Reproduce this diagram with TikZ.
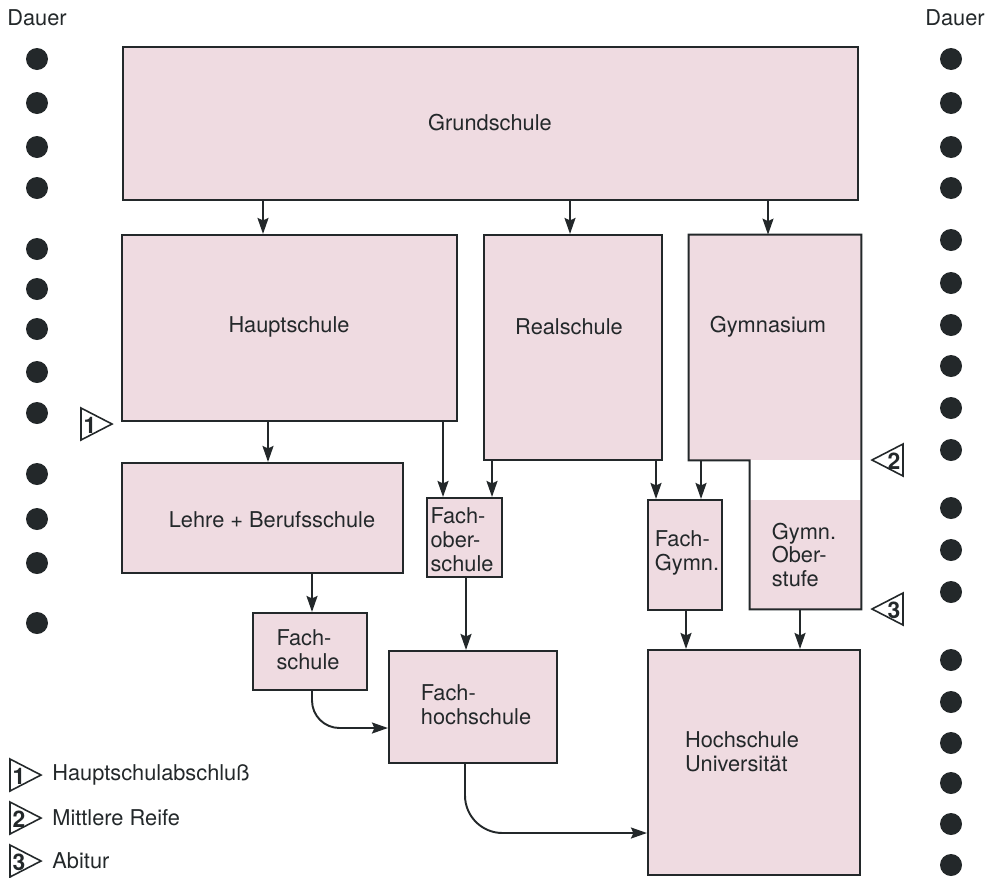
\documentclass[tikz,border=0pt]{standalone}
\usepackage{fontspec}
\setmainfont{TeX Gyre Heros}
\usetikzlibrary{arrows.meta, fit}
\definecolor{boxpink}{RGB}{239,219,225}
\definecolor{ink}{RGB}{35,40,42}

\begin{document}
\begin{tikzpicture}[
  x=0.2mm, y=-0.2mm,
  box/.style={rectangle, draw=ink, line width=1.2pt, fill=boxpink, inner sep=0pt},
  pinkonly/.style={rectangle, draw=none, fill=boxpink, inner sep=0pt},
  txt/.style={font=\fontsize{12.4}{13.6}\selectfont, text=ink, align=left, inner sep=0pt},
  arr/.style={-{Stealth[length=3.2mm, width=2.2mm, inset=0.5mm]}, line width=1.1pt, draw=ink},
  edge/.style={draw=ink, line width=1.2pt},
  jahr/.style={circle, fill=ink, minimum size=4.4mm, inner sep=0pt},
  abschl/.style={draw=ink, line width=0.9pt, fill=white},
  num/.style={font=\bfseries\fontsize{13}{13}\selectfont, text=ink, inner sep=0pt},
]
\useasboundingbox (0,0) rectangle (986,877);

% --- Dauer columns ---
\node[txt, anchor=west] (dauerL) at (7,18) {Dauer};
\node[txt, anchor=east] (dauerR) at (985,18) {Dauer};
\foreach \y in {59,103,147,188,249,289,329,372,413,474,519,563,623}
  \node[jahr] (l\y) at (37,\y) {};
\foreach \y in {59,103,147,188,240,283,325,366,408,450,508,550,592,660,702,743,783,824,865}
  \node[jahr] (r\y) at (951,\y) {};

% --- schools ---
\node[box, fit={(123,47) (858,200)}] (grund) {};
\node[box, fit={(122,235) (457,421)}] (haupt) {};
\node[box, fit={(484,235) (662,460)}] (real) {};
\node[pinkonly, fit={(689,235) (861,460)}] (gym) {};
\node[pinkonly, fit={(750,500) (861,609)}] (ober) {};
\draw[edge] (gym.south west) -- (gym.north west) -- (gym.north east)
  -- (ober.south east) -- (ober.south west) -- (ober.south west |- gym.south) -- cycle;
\node[box, fit={(122,463) (403,573)}] (lehre) {};
\node[box, fit={(427,498) (502,577)}] (fos) {};
\node[box, fit={(648,500) (722,610)}] (fgym) {};
\node[box, fit={(253,613) (367,690)}] (fs) {};
\node[box, fit={(389,651) (557,763)}] (fh) {};
\node[box, fit={(648,650) (860,875)}] (hs) {};

\node[txt] (tgrund) at (490,123) {Grundschule};
\node[txt] (thaupt) at (289,327) {Hauptschule};
\node[txt] (treal) at (569,327) {Realschule};
\node[txt] (tgym) at (768,327) {Gymnasium};
\node[txt] (tlehre) at (272,520) {Lehre + Berufsschule};
\node[txt] (tfos) at (462,540) {Fach-\\ober-\\schule};
\node[txt] (tfgym) at (687,553) {Fach-\\Gymn.};
\node[txt] (tober) at (804,555) {Gymn.\\Ober-\\stufe};
\node[txt] (tfs) at (308,650) {Fach-\\schule};
\node[txt] (tfh) at (476,705) {Fach-\\hochschule};
\node[txt] (ths) at (742,752) {Hochschule\\Universität};

% --- connections ---
\draw[arr] (grund.south -| 263,0) -- (haupt.north -| 263,0);
\draw[arr] (grund.south -| 570,0) -- (real.north -| 570,0);
\draw[arr] (grund.south -| 768,0) -- (gym.north -| 768,0);
\draw[arr] (haupt.south -| 268,0) -- (lehre.north -| 268,0);
\draw[arr] (haupt.south -| 443,0) -- (fos.north -| 443,0);
\draw[arr] (real.south -| 492,0) -- (fos.north -| 492,0);
\draw[arr] (real.south -| 656,0) -- (fgym.north -| 656,0);
\draw[arr] (gym.south -| 701,0) -- (fgym.north -| 701,0);
\draw[arr] (lehre.south -| 312,0) -- (fs.north -| 312,0);
\draw[arr] (fos.south -| 466,0) -- (fh.north -| 466,0);
\draw[arr] (fgym.south -| 686,0) -- (hs.north -| 686,0);
\draw[arr] (ober.south -| 800,0) -- (hs.north -| 800,0);
\draw[arr, rounded corners=0.55cm] (fs.south -| 312,0) |- (fh.west |- 0,728);
\draw[arr, rounded corners=0.75cm] (fh.south -| 465,0) |- (hs.west |- 0,833);

% --- Abschluesse ---
\foreach \bx/\cy/\n/\d in {81/424/1/1, 903/460/2/-1, 903/609/3/-1,
                           10/775/1/1, 10/818/2/1, 10/861/3/1} {
  \draw[abschl] (\bx,\cy-16) -- ({\bx+31*\d},\cy) -- (\bx,\cy+16) -- cycle;
  \node[num] (m\bx-\cy) at ({\bx+9*\d},\cy+1) {\n};
}
\node[txt, anchor=west] (leg1) at (52,775) {Hauptschulabschluß};
\node[txt, anchor=west] (leg2) at (52,818) {Mittlere Reife};
\node[txt, anchor=west] (leg3) at (52,861) {Abitur};
\end{tikzpicture}
\end{document}
